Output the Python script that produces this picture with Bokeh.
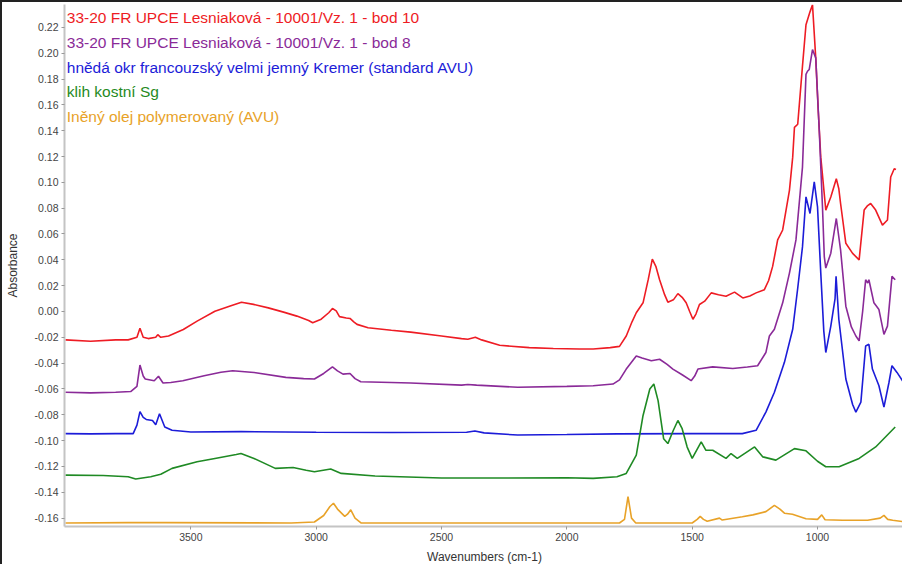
from bokeh.plotting import figure
from bokeh.models import Range1d, FixedTicker, PrintfTickFormatter, Label
from bokeh.embed import file_html
from bokeh.resources import INLINE

# ---------------- data ----------------
red_w = [4000, 3900, 3800, 3750, 3715, 3703, 3690, 3670, 3640, 3632, 3620, 3589, 3530, 3475, 3404, 3340, 3298,
         3250, 3191, 3130, 3077, 3030, 3014, 2980, 2950, 2935, 2920, 2907, 2880, 2865, 2850, 2837, 2793, 2700,
         2623, 2500, 2420, 2395, 2365, 2340, 2268, 2150, 2054, 1950, 1895, 1827, 1790, 1763, 1740, 1723, 1696,
         1675, 1659, 1645, 1630, 1610, 1597, 1575, 1557, 1540, 1524, 1510, 1497, 1485, 1471, 1450, 1424, 1395,
         1365, 1331, 1298, 1270, 1245, 1212, 1195, 1179, 1159, 1139, 1112, 1099, 1092, 1079, 1060, 1046, 1030,
         1020, 1007, 997, 987, 967, 947, 925, 915, 908, 887, 860, 834, 814, 800, 788, 768, 741, 721, 708, 694, 687]
red_a = [-0.022, -0.023, -0.022, -0.022, -0.020, -0.013, -0.020, -0.021, -0.020, -0.018, -0.020, -0.019, -0.014,
         -0.0075, 0.0002, 0.0045, 0.0072, 0.0055, 0.0028, -0.0005, -0.0036, -0.007, -0.0087, -0.006, -0.001,
         0.0023, 0.0005, -0.004, -0.005, -0.0054, -0.008, -0.010, -0.0126, -0.0145, -0.016, -0.019, -0.021,
         -0.0215, -0.020, -0.022, -0.0262, -0.028, -0.0287, -0.029, -0.029, -0.028, -0.027, -0.019, -0.008,
         -0.001, 0.0067, 0.025, 0.0405, 0.035, 0.0246, 0.013, 0.0072, 0.009, 0.0138, 0.011, 0.0067, 0.000,
         -0.006, -0.002, 0.0054, 0.008, 0.0144, 0.013, 0.0118, 0.015, 0.0105, 0.012, 0.0144, 0.0169, 0.024,
         0.0349, 0.0554, 0.0631, 0.0938, 0.1195, 0.1426, 0.145, 0.19, 0.222, 0.232, 0.2375, 0.196, 0.155,
         0.1195, 0.0785, 0.0887, 0.1028, 0.095, 0.0836, 0.0528, 0.045, 0.040, 0.0785, 0.082, 0.0836, 0.0785,
         0.0669, 0.0708, 0.1041, 0.1105, 0.110]

purple_w = [4000, 3900, 3800, 3740, 3715, 3703, 3690, 3682, 3646, 3629, 3611, 3580, 3532, 3447, 3380, 3333, 3248,
            3121, 3050, 3007, 2970, 2935, 2915, 2893, 2865, 2845, 2822, 2700, 2623, 2420, 2395, 2360, 2196, 2000,
            1895, 1816, 1790, 1763, 1723, 1700, 1663, 1630, 1600, 1577, 1540, 1504, 1490, 1477, 1418, 1338, 1280,
            1239, 1206, 1192, 1172, 1139, 1112, 1086, 1060, 1046, 1040, 1033, 1020, 1007, 993, 980, 973, 967,
            947, 925, 908, 887, 865, 847, 834, 820, 808, 800, 795, 775, 755, 735, 721, 703, 690]
purple_a = [-0.0625, -0.063, -0.0625, -0.062, -0.058, -0.0415, -0.050, -0.0523, -0.0536, -0.0502, -0.0554, -0.055,
            -0.0536, -0.0497, -0.047, -0.0459, -0.0472, -0.051, -0.052, -0.0523, -0.048, -0.0429, -0.046, -0.0485,
            -0.048, -0.052, -0.0544, -0.055, -0.0554, -0.057, -0.0565, -0.057, -0.0587, -0.058, -0.0575, -0.0562,
            -0.053, -0.0446, -0.0344, -0.036, -0.0382, -0.037, -0.041, -0.0446, -0.049, -0.0536, -0.050, -0.0446,
            -0.0429, -0.0441, -0.043, -0.042, -0.0318, -0.019, -0.0138, 0.0067, 0.0297, 0.0554, 0.1118, 0.1836,
            0.186, 0.1874, 0.2028, 0.1964, 0.14, 0.08, 0.0425, 0.0336, 0.0451, 0.072, 0.0477, 0.0041, -0.012,
            -0.019, -0.0228, 0.000, 0.0246, 0.022, 0.0246, 0.0067, 0.0015, -0.0177, -0.0113, 0.0272, 0.0246]

blue_w = [4000, 3900, 3800, 3730, 3715, 3703, 3690, 3678, 3653, 3640, 3625, 3604, 3575, 3500, 3300, 3000, 2700,
          2400, 2367, 2330, 2196, 2000, 1800, 1500, 1300, 1245, 1206, 1172, 1132, 1099, 1079, 1060, 1046, 1030,
          1013, 1000, 987, 975, 967, 947, 930, 926, 915, 887, 860, 847, 827, 808, 795, 781, 755, 735, 715, 703,
          683, 660, 650]
blue_a = [-0.0946, -0.0948, -0.0946, -0.0946, -0.088, -0.0775, -0.082, -0.0836, -0.0844, -0.0877, -0.0792, -0.0894,
          -0.092, -0.0933, -0.093, -0.0935, -0.0937, -0.0935, -0.0925, -0.094, -0.0957, -0.0953, -0.0948, -0.0946,
          -0.0946, -0.092, -0.0779, -0.0625, -0.0394, -0.0138, 0.018, 0.05, 0.0887, 0.0759, 0.1003, 0.081, 0.0297,
          -0.015, -0.0318, -0.0113, 0.010, 0.0272, -0.006, -0.0523, -0.072, -0.0779, -0.0702, -0.0267, -0.0254,
          -0.0446, -0.0575, -0.0741, -0.055, -0.042, -0.0472, -0.054, -0.0562]

green_w = [4000, 3850, 3750, 3720, 3660, 3620, 3575, 3475, 3404, 3319, 3300, 3248, 3163, 3092, 3040, 3007, 2942,
           2900, 2765, 2500, 2300, 2000, 1895, 1800, 1763, 1723, 1696, 1669, 1653, 1636, 1614, 1597, 1575, 1557,
           1540, 1520, 1500, 1464, 1445, 1418, 1365, 1345, 1320, 1251, 1218, 1166, 1092, 1046, 1000, 967, 914,
           834, 768, 690]
green_a = [-0.1267, -0.127, -0.128, -0.1297, -0.128, -0.126, -0.1215, -0.1164, -0.1138, -0.1108, -0.110, -0.1138,
           -0.1215, -0.1208, -0.123, -0.1241, -0.122, -0.1254, -0.1274, -0.129, -0.129, -0.1287, -0.1292, -0.128,
           -0.1254, -0.1113, -0.0805, -0.06, -0.0562, -0.069, -0.0985, -0.1023, -0.092, -0.0844, -0.0908, -0.105,
           -0.1138, -0.101, -0.1075, -0.1075, -0.1138, -0.110, -0.1138, -0.1049, -0.1126, -0.1151, -0.1062,
           -0.1079, -0.116, -0.1202, -0.1202, -0.1138, -0.1049, -0.0895]

orange_w = [4000, 3750, 3600, 3100, 3007, 2970, 2945, 2931, 2915, 2886, 2875, 2862, 2845, 2820, 2000, 1790, 1770,
            1756, 1742, 1725, 1500, 1480, 1468, 1455, 1440, 1391, 1380, 1300, 1258, 1206, 1172, 1150, 1132, 1100,
            1046, 1000, 983, 970, 900, 800, 750, 735, 720, 700, 650]
orange_a = [-0.1638, -0.1635, -0.1635, -0.1638, -0.163, -0.158, -0.151, -0.1485, -0.153, -0.1587, -0.157, -0.1536,
            -0.160, -0.1638, -0.1638, -0.1638, -0.161, -0.1433, -0.160, -0.1638, -0.1638, -0.161, -0.1587, -0.161,
            -0.1625, -0.160, -0.1615, -0.159, -0.1575, -0.155, -0.1502, -0.153, -0.1562, -0.157, -0.1605, -0.161,
            -0.1575, -0.1613, -0.1617, -0.1617, -0.160, -0.1579, -0.161, -0.1617, -0.163]

series_names = ["33-20 FR UPCE Lesniaková - 10001/Vz. 1 - bod 10",
                "33-20 FR UPCE Lesniaková - 10001/Vz. 1 - bod 8",
                "hnědá okr francouzský velmi jemný Kremer (standard AVU)",
                "klih kostní Sg",
                "Iněný olej polymerovaný (AVU)"]
series_colors = ["#ee1c24", "#8a2a98", "#1c1cd8", "#1f8a24", "#e8a228"]

x_ticks = [3500, 3000, 2500, 2000, 1500, 1000]
y_ticks = [-0.16, -0.14, -0.12, -0.10, -0.08, -0.06, -0.04, -0.02, 0.00,
           0.02, 0.04, 0.06, 0.08, 0.10, 0.12, 0.14, 0.16, 0.18, 0.20, 0.22]

# ---------------- figure ----------------
p = figure(width=902, height=564, x_range=Range1d(4004, 653), y_range=Range1d(-0.1665, 0.2377),
           output_backend="svg", toolbar_location=None,
           min_border_left=60, min_border_right=0, min_border_top=2, min_border_bottom=36)
p.styles = {"border-left": "2px solid #222", "border-top": "2px solid #222"}
p.outline_line_color = None
p.grid.visible = False
p.background_fill_color = "white"
p.border_fill_color = "white"

for w, a, c in zip([red_w, purple_w, blue_w, green_w, orange_w],
                   [red_a, purple_a, blue_a, green_a, orange_a], series_colors):
    p.line(w, a, line_color=c, line_width=1.6)

for ax in (p.xaxis[0], p.yaxis[0]):
    ax.axis_line_color = "#c4c4c4"
    ax.axis_line_width = 2
    ax.major_tick_line_color = "#999999"
    ax.major_tick_out = 3
    ax.major_tick_in = 0
    ax.minor_tick_line_color = None
    ax.major_label_text_font = "Liberation Sans"
    ax.major_label_text_font_size = "10.5px"
    ax.major_label_text_color = "#444444"
    ax.major_label_standoff = 3
    ax.axis_label_text_font = "Liberation Sans"
    ax.axis_label_text_font_size = "12px"
    ax.axis_label_text_font_style = "normal"
    ax.axis_label_text_color = "#333333"

p.xaxis.ticker = FixedTicker(ticks=x_ticks)
p.yaxis.ticker = FixedTicker(ticks=y_ticks)
p.yaxis.formatter = PrintfTickFormatter(format="%.2f")
p.xaxis.axis_label = "Wavenumbers (cm-1)"
p.yaxis.axis_label = "Absorbance"
p.xaxis.axis_label_standoff = 6
p.yaxis.axis_label_standoff = 12

# legend-like coloured texts
legend_y = [0.2277, 0.2085, 0.1892, 0.1700, 0.1508]
for name, c, yy in zip(series_names, series_colors, legend_y):
    p.add_layout(Label(x=3995, y=yy, text=name, text_color=c,
                       text_font="Liberation Sans", text_font_size="15.5px",
                       text_baseline="middle", text_align="left"))

open("out.html", "w").write(file_html(p, INLINE))
